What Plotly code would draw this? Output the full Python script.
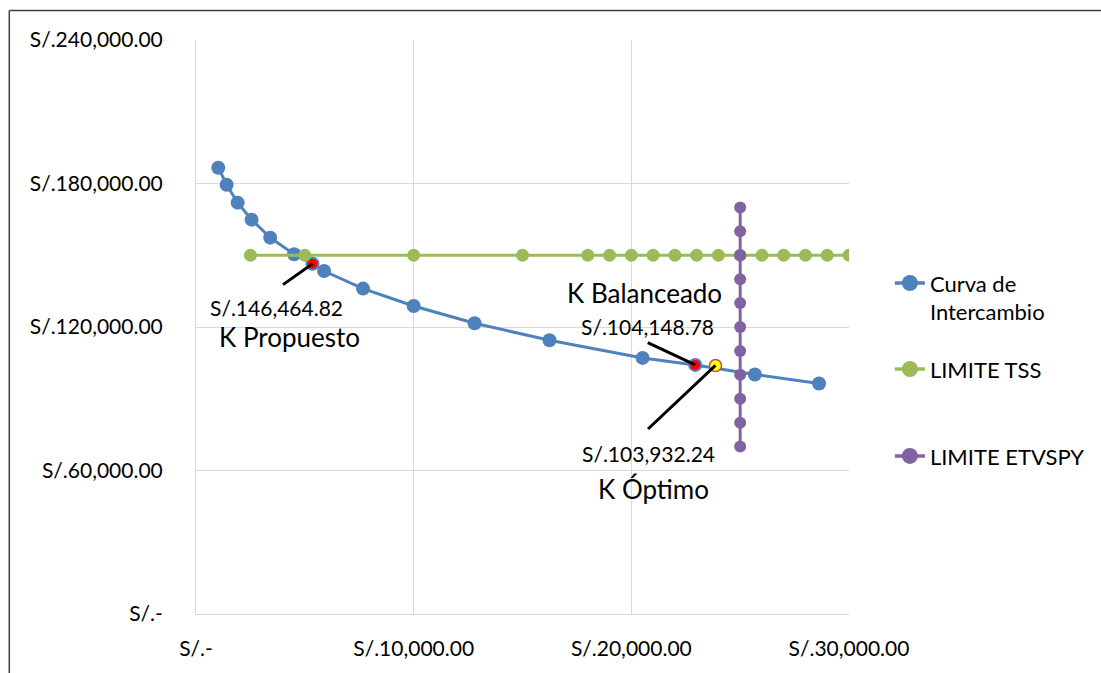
import plotly.graph_objects as go

# ---------------- data ----------------
curva_x = [1023, 1408, 1913, 2555, 3408, 4509, 5353, 5885, 7674, 10000,
           12798, 16239, 20518, 22936, 25674, 28624]
curva_y = [186609, 179507, 171988, 164886, 157367, 150390, 146464.82, 143414,
           136061, 128792, 121565, 114464, 107070, 104148.78, 100135, 96375]

tss_x = [2500, 5000, 10000, 15000, 18000, 19000, 20000, 21000, 22000, 23000,
         24000, 25000, 26000, 27000, 28000, 29000, 30000]
tss_y = [150000] * len(tss_x)

etv_x = [25000] * 11
etv_y = [170000, 160000, 150000, 140000, 130000, 120000, 110000, 100000,
         90000, 80000, 70000]

k_prop_x, k_prop_y = [5353], [146464.82]
k_bal_x, k_bal_y = [22936], [104148.78]
k_opt_x, k_opt_y = [23867], [103932.24]

x_tickvals = [0, 10000, 20000, 30000]
x_ticktext = ["S/.-", "S/.10,000.00", "S/.20,000.00", "S/.30,000.00"]
y_tickvals = [0, 60000, 120000, 180000, 240000]
y_ticktext = ["S/.-", "S/.60,000.00", "S/.120,000.00", "S/.180,000.00",
              "S/.240,000.00"]

names = ["Curva de<br>Intercambio", "LIMITE TSS", "LIMITE ETVSPY"]

FONT = "Lato"
BLUE, GREEN, PURPLE = "#4f81bd", "#9bbb59", "#8064a2"
series = [(curva_x, curva_y, BLUE, 14, "legend"),
          (tss_x, tss_y, GREEN, 13, "legend2"),
          (etv_x, etv_y, PURPLE, 12, "legend3")]

fig = go.Figure()
for (xs, ys, col, ms, leg), nm in zip(series, names):
    fig.add_trace(go.Scatter(x=xs, y=ys, mode="lines+markers", name=nm,
                             line=dict(color=col, width=3),
                             marker=dict(color=col, size=ms),
                             showlegend=False))
fig.add_trace(go.Scatter(x=k_prop_x, y=k_prop_y, mode="markers", showlegend=False,
                         marker=dict(color="#ff0000", size=10)))
fig.add_trace(go.Scatter(x=k_bal_x, y=k_bal_y, mode="markers", showlegend=False,
                         marker=dict(color="#ff0000", size=10)))
fig.add_trace(go.Scatter(x=k_opt_x, y=k_opt_y, mode="markers", showlegend=False,
                         marker=dict(color="#ffff00", size=12,
                                     line=dict(color="#c0504d", width=1.5))))
# legend entries (same series styling, larger symbol as in the original legend)
for (xs, ys, col, ms, leg), nm in zip(series, names):
    fig.add_trace(go.Scatter(x=[None], y=[None], mode="lines+markers", name=nm,
                             line=dict(color=col, width=3.5),
                             marker=dict(color=col, size=16), legend=leg))

# leader lines
leaders = [(k_prop_x[0], k_prop_y[0], -31, 22),
           (k_bal_x[0], k_bal_y[0], -49, -23),
           (k_opt_x[0], k_opt_y[0], -69, 65)]
for x, y, ax, ay in leaders:
    fig.add_annotation(x=x, y=y, ax=ax, ay=ay, text="", showarrow=True,
                       arrowhead=0, arrowwidth=3, arrowcolor="#000000",
                       standoff=0, startstandoff=0)

labels = [("S/.146,464.82", 3716, 128249, 21),
          ("K Propuesto", 4312, 115717, 26),
          ("K Balanceado", 20596, 134098, 26),
          ("S/.104,148.78", 20748, 120020, 21),
          ("S/.103,932.24", 20794, 67133, 21),
          ("K Óptimo", 21009, 52219, 26)]
for t, x, y, s in labels:
    fig.add_annotation(x=x, y=y, text=t, showarrow=False,
                       font=dict(family=FONT, size=s, color="#000000"))

# outer frame (top and left edges visible)
frame_x = (9 - 196) / 654
frame_y = (614 - 10) / 574.5
fig.add_shape(type="line", xref="paper", yref="paper",
              x0=frame_x, x1=1.6, y0=frame_y, y1=frame_y,
              line=dict(color="#404040", width=1.5))
fig.add_shape(type="line", xref="paper", yref="paper",
              x0=frame_x, x1=frame_x, y0=-0.3, y1=frame_y,
              line=dict(color="#404040", width=1.5))

leg_common = dict(font=dict(family=FONT, size=22, color="#000000"),
                  bgcolor="rgba(0,0,0,0)", xanchor="left", valign="top",
                  x=1.061, itemwidth=30)
fig.update_layout(
    width=1101, height=673,
    margin=dict(l=196, r=251, t=40, b=59),
    paper_bgcolor="white", plot_bgcolor="white",
    font=dict(family=FONT, size=21, color="#000000"),
    legend=dict(**leg_common, y=(614 - 282) / 574.5 + 0.035, yanchor="top"),
    legend2=dict(**leg_common, y=(614 - 369) / 574.5, yanchor="middle"),
    legend3=dict(**leg_common, y=(614 - 456) / 574.5, yanchor="middle"),
    xaxis=dict(range=[0, 30000], tickvals=x_tickvals, ticktext=x_ticktext,
               showgrid=True, gridcolor="#d9d9d9", gridwidth=1, zeroline=False,
               showline=True, linecolor="#d9d9d9", linewidth=1,
               ticks="", ticklabelstandoff=16,
               tickfont=dict(family=FONT, size=21, color="#000000")),
    yaxis=dict(range=[0, 240000], tickvals=y_tickvals, ticktext=y_ticktext,
               showgrid=True, gridcolor="#d9d9d9", gridwidth=1, zeroline=False,
               showline=True, linecolor="#d9d9d9", linewidth=1,
               ticks="", ticklabelstandoff=28,
               tickfont=dict(family=FONT, size=21, color="#000000")),
)

fig.write_html("out.html")
